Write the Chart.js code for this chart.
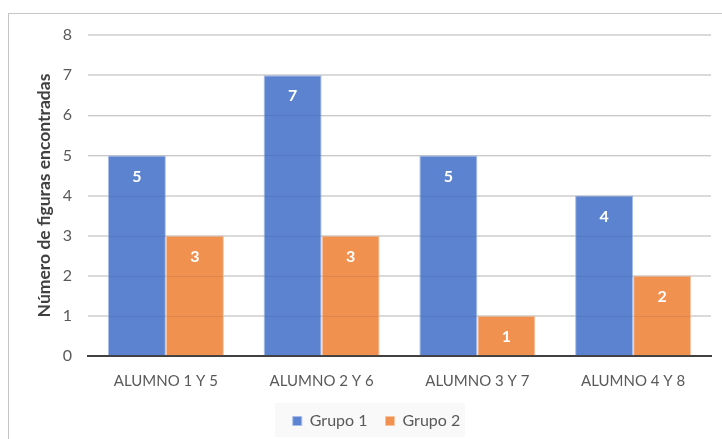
<!DOCTYPE html>
<html>
<head>
<meta charset="utf-8">
<script src="https://cdn.jsdelivr.net/npm/chart.js@4.4.0/dist/chart.umd.min.js"></script>
<style>
  html, body { margin: 0; padding: 0; background: #fff; }
  #wrap { position: relative; width: 722px; height: 439px; overflow: hidden; }
  #frame { position: absolute; left: 8px; top: 13px; width: 800px; height: 500px;
           border-top: 1px solid #c6c6c6; border-left: 1px solid #c6c6c6; }
  canvas { position: absolute; left: 0; top: 0; }
</style>
</head>
<body>
<div id="wrap">
  <div id="frame"></div>
  <canvas id="barChart" width="722" height="439"></canvas>
</div>
<script>
const categories = ['ALUMNO 1 Y 5', 'ALUMNO 2 Y 6', 'ALUMNO 3 Y 7', 'ALUMNO 4 Y 8'];
const grupo1 = [5, 7, 5, 4];
const grupo2 = [3, 3, 1, 2];
const yTicks = [0, 1, 2, 3, 4, 5, 6, 7, 8];

const FONT = 'Lato, "Open Sans", sans-serif';

// white value labels a bit under the top of each bar
const valueLabels = {
  id: 'valueLabels',
  afterDatasetsDraw(chart) {
    const ctx = chart.ctx;
    ctx.save();
    ctx.fillStyle = '#ffffff';
    ctx.font = 'bold 16px ' + FONT;
    ctx.textAlign = 'center';
    ctx.textBaseline = 'middle';
    chart.data.datasets.forEach((ds, i) => {
      chart.getDatasetMeta(i).data.forEach((bar, j) => {
        ctx.fillText(ds.data[j], bar.x, bar.y + 21);
      });
    });
    ctx.restore();
  }
};

// faint gridlines over the bars, like the original
const overGrid = {
  id: 'overGrid',
  afterDatasetsDraw(chart) {
    const y = chart.scales.y, a = chart.chartArea, ctx = chart.ctx;
    ctx.save();
    ctx.strokeStyle = 'rgba(0,0,0,0.07)';
    ctx.lineWidth = 1;
    yTicks.slice(1).forEach(v => {
      const py = Math.round(y.getPixelForValue(v)) + 0.5;
      ctx.beginPath();
      ctx.moveTo(a.left, py);
      ctx.lineTo(a.right, py);
      ctx.stroke();
    });
    ctx.restore();
  }
};

// nudge the legend right and put a light box behind it
const legendBox = {
  id: 'legendBox',
  afterLayout(chart) {
    const l = chart.legend;
    l.left += 4;
    l.right += 4;
  },
  beforeDraw(chart) {
    const ctx = chart.ctx;
    ctx.save();
    ctx.fillStyle = '#f9f9f9';
    ctx.fillRect(275, 403, 190, 34);
    ctx.restore();
  }
};

new Chart(document.getElementById('barChart'), {
  type: 'bar',
  data: {
    labels: categories,
    datasets: [
      {
        label: 'Grupo 1',
        data: grupo1,
        backgroundColor: '#5b83d0',
        borderColor: '#a9bde8',
        borderWidth: 1
      },
      {
        label: 'Grupo 2',
        data: grupo2,
        backgroundColor: '#f09150',
        borderColor: '#f7c4a2',
        borderWidth: 1
      }
    ]
  },
  options: {
    responsive: false,
    animation: false,
    layout: { padding: { left: 34, right: 11, top: 35, bottom: 0 } },
    datasets: {
      bar: { categoryPercentage: 0.745, barPercentage: 1.0 }
    },
    scales: {
      x: {
        grid: { display: false },
        border: { color: '#404040', width: 2 },
        ticks: { color: '#595959', font: { family: FONT, size: 15 }, padding: 8 },
        afterFit(scale) { scale.height = 39; }
      },
      y: {
        min: 0,
        max: 8,
        afterBuildTicks(scale) { scale.ticks = yTicks.map(v => ({ value: v })); },
        grid: { color: '#d9d9d9', lineWidth: 1.5, drawTicks: false },
        border: { display: false },
        ticks: { color: '#595959', font: { family: FONT, size: 16 }, padding: 16 },
        title: {
          display: true,
          text: 'Número de figuras encontradas',
          color: '#404040',
          font: { family: FONT, size: 17.5, weight: 'bold' },
          padding: { top: 0, bottom: 0 }
        },
        afterFit(scale) { scale.width = 54; }
      }
    },
    plugins: {
      legend: {
        position: 'bottom',
        labels: {
          color: '#595959',
          font: { family: FONT, size: 16 },
          boxWidth: 9,
          boxHeight: 9,
          padding: 18,
          useBorderRadius: false
        }
      },
      tooltip: { enabled: false }
    }
  },
  plugins: [legendBox, overGrid, valueLabels]
});
</script>
</body>
</html>
